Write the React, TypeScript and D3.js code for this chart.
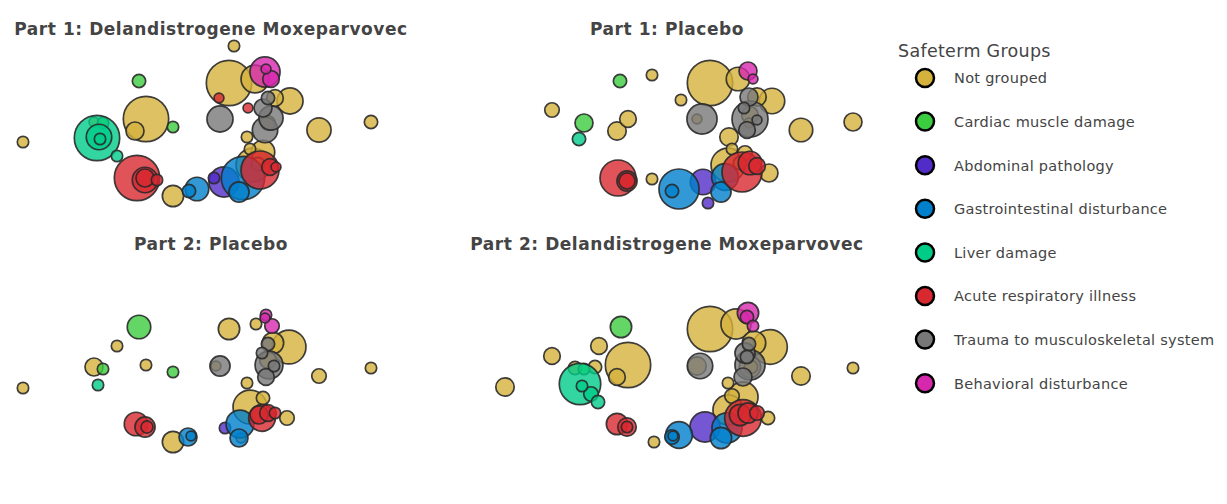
import React from "react";
import * as d3 from "d3";

// Safeterm groups (legend order) and their colours
const groups = [
  "Not grouped",
  "Cardiac muscle damage",
  "Abdominal pathology",
  "Gastrointestinal disturbance",
  "Liver damage",
  "Acute respiratory illness",
  "Trauma to musculoskeletal system",
  "Behavioral disturbance",
];
const groupColors = [
  "rgb(212,178,60)",
  "rgb(60,204,64)",
  "rgb(82,44,200)",
  "rgb(0,128,204)",
  "rgb(0,204,136)",
  "rgb(216,40,48)",
  "rgb(120,120,120)",
  "rgb(214,40,172)",
];

// Each term: [group index, dim1, dim2, event count]
type Term = [number, number, number, number];

const part1Delandistrogene: Term[] = [
  [0, 3.4, 8.4, 8], [0, 2.9, 4.7, 127], [0, 5.5, 5.1, 48], [0, 9.0, 2.9, 42],
  [0, 7.5, 3.2, 17], [0, 6.8, 0.7, 13], [0, 11.9, 0.0, 36], [0, 17.1, 0.8, 11],
  [0, -17.7, -1.2, 8], [0, -5.4, 1.1, 127], [0, -6.5, -0.1, 20], [0, -10.6, 0.8, 6],
  [0, 4.7, -0.7, 8], [0, -2.7, -6.6, 28], [0, 6.3, -2.2, 34], [0, 5.0, -1.9, 8],
  [0, 5.3, -3.5, 71], [0, 5.8, -3.4, 11],
  [1, -6.1, 4.9, 11], [1, -2.7, 0.3, 8], [1, -9.7, 0.7, 8],
  [2, 2.4, -5.2, 56], [2, 1.4, -4.8, 8],
  [3, 4.3, -4.8, 116], [3, 3.9, -6.2, 25], [3, -0.3, -5.9, 34], [3, -1.1, -6.1, 11],
  [4, -10.3, -0.8, 127], [4, -10.1, -0.7, 40], [4, -10.0, -0.9, 8], [4, -8.3, -2.6, 8],
  [5, 1.9, 3.2, 6], [5, 4.8, 2.2, 6], [5, -6.3, -4.8, 127], [5, -5.5, -5.0, 40],
  [5, -5.5, -4.8, 20], [5, -4.3, -5.0, 8], [5, 6.0, -4.0, 89], [5, 7.0, -3.7, 17],
  [5, 7.6, -3.7, 6],
  [6, 6.8, 3.2, 11], [6, 6.3, 2.2, 20], [6, 2.0, 1.1, 42], [6, 7.1, 1.2, 36], [6, 6.5, 0.0, 40],
  [7, 6.5, 5.8, 56], [7, 6.6, 6.1, 6], [7, 7.1, 5.1, 17],
];

const part1Placebo: Term[] = [
  [0, -3.0, 5.5, 8], [0, -13.0, 2.0, 13], [0, -6.5, -0.1, 21], [0, -5.4, 1.1, 17],
  [0, -0.1, 3.0, 8], [0, 2.8, 4.7, 127], [0, 5.6, 5.1, 34], [0, 1.5, 1.1, 6],
  [0, 7.5, 3.3, 21], [0, 9.0, 2.9, 40], [0, 6.8, 1.5, 17], [0, 6.7, 0.7, 6],
  [0, 11.9, 0.0, 34], [0, 17.1, 0.8, 20], [0, 4.7, -0.7, 21], [0, 5.0, -1.9, 8],
  [0, 4.6, -3.5, 71], [0, 6.3, -2.3, 13], [0, 5.8, -3.3, 11], [0, 8.7, -4.3, 20],
  [0, -3.0, -4.9, 8],
  [1, -6.2, 4.9, 11], [1, -9.8, 0.7, 20],
  [2, 2.1, -5.2, 40], [2, 2.6, -7.3, 8],
  [3, 4.3, -4.7, 44], [3, 3.9, -6.2, 25], [3, -0.3, -5.9, 99], [3, -1.0, -6.1, 11],
  [4, -10.3, -0.9, 11],
  [5, 6.0, -4.2, 99], [5, 6.8, -3.3, 34], [5, 7.5, -3.6, 17], [5, -6.4, -4.8, 80],
  [5, -5.5, -5.1, 25], [5, -5.5, -5.1, 16],
  [6, 2.0, 1.1, 56], [6, 6.7, 3.3, 20], [6, 6.2, 2.2, 8], [6, 6.8, 1.1, 80],
  [6, 7.5, 1.0, 6], [6, 6.5, 0.0, 17],
  [7, 6.6, 5.9, 20], [7, 7.1, 5.1, 6],
];

const part2Placebo: Term[] = [
  [0, -8.3, 3.0, 8], [0, -10.6, 0.9, 20], [0, -17.7, -1.2, 8], [0, -5.4, 1.1, 8],
  [0, 2.9, 4.7, 28], [0, 1.6, 1.0, 6], [0, 5.6, 5.2, 8], [0, 8.9, 2.9, 71],
  [0, 7.3, 3.3, 28], [0, 6.8, 1.6, 17], [0, 11.9, 0.0, 13], [0, 17.1, 0.8, 8],
  [0, 4.7, -0.7, 8], [0, 5.0, -3.1, 71], [0, 6.3, -2.2, 11], [0, 8.7, -4.2, 13],
  [0, 4.1, -6.2, 6], [0, -2.7, -6.6, 28],
  [1, -6.1, 4.9, 34], [1, -9.7, 0.7, 8], [1, -2.7, 0.4, 8],
  [2, 2.5, -5.2, 8],
  [3, 4.0, -4.8, 48], [3, 3.9, -6.2, 20], [3, -1.2, -6.1, 20], [3, -0.9, -6.0, 6],
  [4, -10.2, -0.9, 8],
  [5, 6.2, -4.2, 44], [5, 5.9, -3.9, 20], [5, 6.8, -3.7, 17], [5, 7.5, -3.7, 8],
  [5, -6.4, -4.8, 34], [5, -5.5, -5.1, 25], [5, -5.3, -5.1, 9],
  [6, 2.0, 1.0, 25], [6, 6.8, 3.2, 11], [6, 6.2, 2.3, 8], [6, 6.9, 1.1, 48],
  [6, 7.4, 1.0, 8], [6, 6.6, -0.1, 17],
  [7, 6.6, 6.1, 8], [7, 7.2, 5.0, 13], [7, 6.5, 5.8, 6],
];

const part2Delandistrogene: Term[] = [
  [0, -17.7, -1.1, 21], [0, -13.0, 2.0, 17], [0, -8.3, 3.0, 17], [0, -5.4, 1.1, 127],
  [0, -6.5, -0.1, 17], [0, -10.7, 0.8, 11], [0, -8.7, 0.9, 11], [0, 2.8, 4.7, 127],
  [0, 5.4, 5.2, 56], [0, 8.8, 2.9, 74], [0, 7.2, 3.3, 34], [0, 6.8, 0.9, 28],
  [0, 6.9, 0.9, 11], [0, 1.5, 1.0, 21], [0, 11.9, 0.0, 21], [0, 17.1, 0.8, 8],
  [0, 4.6, -0.7, 8], [0, 6.1, -2.1, 56], [0, 5.0, -2.0, 13], [0, 4.6, -3.4, 56],
  [0, 8.6, -4.2, 11], [0, -2.8, -6.6, 8],
  [1, -6.1, 4.9, 28], [1, -9.8, 0.7, 8],
  [2, 2.3, -5.1, 56],
  [3, 4.5, -5.2, 56], [3, 3.9, -6.2, 28], [3, -0.3, -5.9, 44], [3, -1.0, -6.1, 13],
  [3, -0.9, -6.0, 6],
  [4, -10.2, -0.8, 106], [4, -10.0, -1.0, 8], [4, -9.1, -1.8, 13], [4, -8.4, -2.6, 11],
  [5, 6.1, -4.2, 83], [5, 5.8, -3.9, 28], [5, 6.6, -3.7, 25], [5, 7.5, -3.7, 13],
  [5, -6.5, -4.8, 28], [5, -5.5, -5.1, 21], [5, -5.5, -5.1, 8],
  [6, 1.8, 1.0, 40], [6, 6.7, 3.2, 11], [6, 6.3, 2.3, 25], [6, 6.5, 1.9, 11],
  [6, 6.8, 1.1, 56], [6, 6.1, -0.1, 20],
  [7, 6.6, 6.3, 28], [7, 6.5, 5.9, 11], [7, 7.1, 5.0, 8],
];

const panelTitles = [
  "Part 1: Delandistrogene Moxeparvovec",
  "Part 1: Placebo",
  "Part 2: Placebo",
  "Part 2: Delandistrogene Moxeparvovec",
];
const panelData = [part1Delandistrogene, part1Placebo, part2Placebo, part2Delandistrogene];
const legendTitle = "Safeterm Groups";

const W = 1227;
const H = 504;
const FONT = "'DejaVu Sans', Verdana, sans-serif";

export default function App() {
  const x = d3.scaleLinear().domain([-20, 20]).range([0, 400]);
  const y = d3.scaleLinear().domain([-10, 13]).range([230, 0]);
  const r = d3.scaleSqrt().domain([0, 400]).range([0, 40.25]);

  const panelOffsets = [
    [0, 0],
    [482, 0],
    [0, 246],
    [482, 246],
  ];
  const titlePos = [
    [211, 35],
    [667, 35],
    [211, 250],
    [667, 250],
  ];

  return (
    <svg
      width={W}
      height={H}
      style={{ position: "absolute", left: 0, top: 0, background: "#fff" }}
    >
      {panelData.map((data, pi) => {
        const sorted = data
          .map((d, i) => ({ d, i }))
          .sort((a, b) => a.d[0] - b.d[0] || b.d[3] - a.d[3] || a.i - b.i);
        const [ox, oy] = panelOffsets[pi];
        return (
          <g key={pi} transform={`translate(${ox},${oy})`}>
            {sorted.map(({ d }, k) => (
              <circle
                key={k}
                cx={x(d[1])}
                cy={y(d[2])}
                r={r(d[3])}
                fill={groupColors[d[0]]}
                fillOpacity={0.8}
                stroke="#2a2a2a"
                strokeOpacity={0.9}
                strokeWidth={1.7}
              />
            ))}
          </g>
        );
      })}
      {panelTitles.map((t, i) => (
        <text
          key={t + i}
          x={titlePos[i][0]}
          y={titlePos[i][1]}
          textAnchor="middle"
          fontFamily={FONT}
          fontWeight="bold"
          fontSize={17}
          letterSpacing={0.55}
          fill="#444"
        >
          {t}
        </text>
      ))}
      <text x={898} y={57} fontFamily={FONT} fontSize={17.5} letterSpacing={0.3} fill="#444">
        {legendTitle}
      </text>
      {groups.map((g, i) => {
        const cy = 78 + i * 43.6;
        return (
          <g key={g}>
            <circle cx={925} cy={cy} r={9} fill={groupColors[i]} stroke="#000" strokeWidth={2.5} />
            <text
              x={954}
              y={cy + 5.3}
              fontFamily={FONT}
              fontSize={14.5}
              letterSpacing={0.28}
              fill="#444"
            >
              {g}
            </text>
          </g>
        );
      })}
    </svg>
  );
}
